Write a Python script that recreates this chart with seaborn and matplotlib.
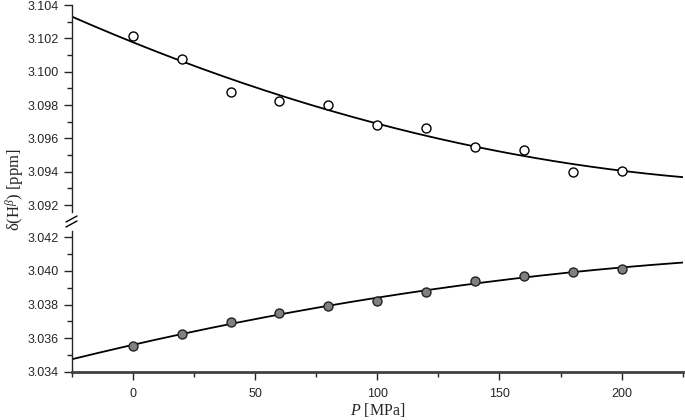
import numpy as np
import pandas as pd
import matplotlib
matplotlib.use("Agg")
import matplotlib.pyplot as plt
import seaborn as sns
from matplotlib.ticker import MultipleLocator, FormatStrFormatter

# data
pressure = [0, 20, 40, 60, 80, 100, 120, 140, 160, 180, 200]
shift_upper = [3.10217, 3.10074, 3.09877, 3.09827, 3.09799, 3.09682,
               3.09664, 3.09550, 3.09532, 3.09397, 3.09407]
shift_lower = [3.03553, 3.03626, 3.03697, 3.03747, 3.03790, 3.03820,
               3.03875, 3.03937, 3.03972, 3.03994, 3.04014]

df = pd.DataFrame({"P": pressure, "up": shift_upper, "low": shift_lower})

# quadratic fits through the points
p_fit = np.linspace(-25, 225, 200)
fit_up = np.polyval(np.polyfit(pressure, shift_upper, 2), p_fit)
fit_low = np.polyval(np.polyfit(pressure, shift_lower, 2), p_fit)
fit = pd.DataFrame({"P": p_fit, "up": fit_up, "low": fit_low})

sns.set_style("ticks")
plt.rcParams["font.family"] = ["Liberation Sans", "DejaVu Sans"]
plt.rcParams["mathtext.fontset"] = "custom"
plt.rcParams["mathtext.rm"] = "Liberation Serif"
plt.rcParams["mathtext.it"] = "Liberation Serif:italic"

fig = plt.figure(figsize=(6.85, 4.2), dpi=100)
ax1 = fig.add_axes([0.1047, 0.496, 0.892, 0.492])
ax2 = fig.add_axes([0.1047, 0.115, 0.892, 0.336])

sns.lineplot(data=fit, x="P", y="up", ax=ax1, color="black", lw=1.3)
sns.scatterplot(data=df, x="P", y="up", ax=ax1, marker="o", s=42,
                facecolor="white", edgecolor="black", linewidth=1.0, zorder=3)
sns.lineplot(data=fit, x="P", y="low", ax=ax2, color="black", lw=1.3)
sns.scatterplot(data=df, x="P", y="low", ax=ax2, marker="o", s=42,
                color="#808080", edgecolor="#222222", linewidth=1.0, zorder=3)

ax1.set_ylim(3.0916, 3.104)
ax2.set_ylim(3.034, 3.0424)
for ax in (ax1, ax2):
    ax.set_xlim(-25, 225)
    ax.yaxis.set_major_locator(MultipleLocator(0.002))
    ax.yaxis.set_minor_locator(MultipleLocator(0.001))
    ax.yaxis.set_major_formatter(FormatStrFormatter("%.3f"))
    ax.spines["top"].set_visible(False)
    ax.spines["right"].set_visible(False)
    ax.spines["left"].set_linewidth(1.0)
    ax.tick_params(axis="y", which="major", length=6, width=1, labelsize=9, direction="out")
    ax.tick_params(axis="y", which="minor", length=3.5, width=1, direction="out")
    ax.set_ylabel("")

ax1.spines["bottom"].set_visible(False)
ax1.set_xticks([])
ax1.set_xlabel("")

ax2.xaxis.set_major_locator(MultipleLocator(50))
ax2.xaxis.set_minor_locator(MultipleLocator(25))
ax2.spines["bottom"].set_linewidth(2.0)
ax2.spines["bottom"].set_color("#404040")
ax2.tick_params(axis="x", which="major", length=6, width=1, labelsize=9, pad=6)
ax2.tick_params(axis="x", which="minor", length=3.5, width=1)
ax2.set_xlabel("")

fig.text(0.551, 1 - 410 / 420, "$\\it{P}$ [MPa]", ha="center", va="center",
         family="Liberation Serif", fontsize=11.5)

# axis break marks
for dy in (0, 5):
    fig.add_artist(plt.Line2D([66 / 685, 77 / 685],
                              [1 - (222 + dy) / 420, 1 - (216 + dy) / 420],
                              color="black", lw=1.0))

fig.text(0.022, 1 - 190 / 420, "δ(H$^{\\beta}$) [ppm]", rotation=90,
         ha="center", va="center", family="Liberation Serif", fontsize=12)

fig.savefig("out.png", dpi=100)
